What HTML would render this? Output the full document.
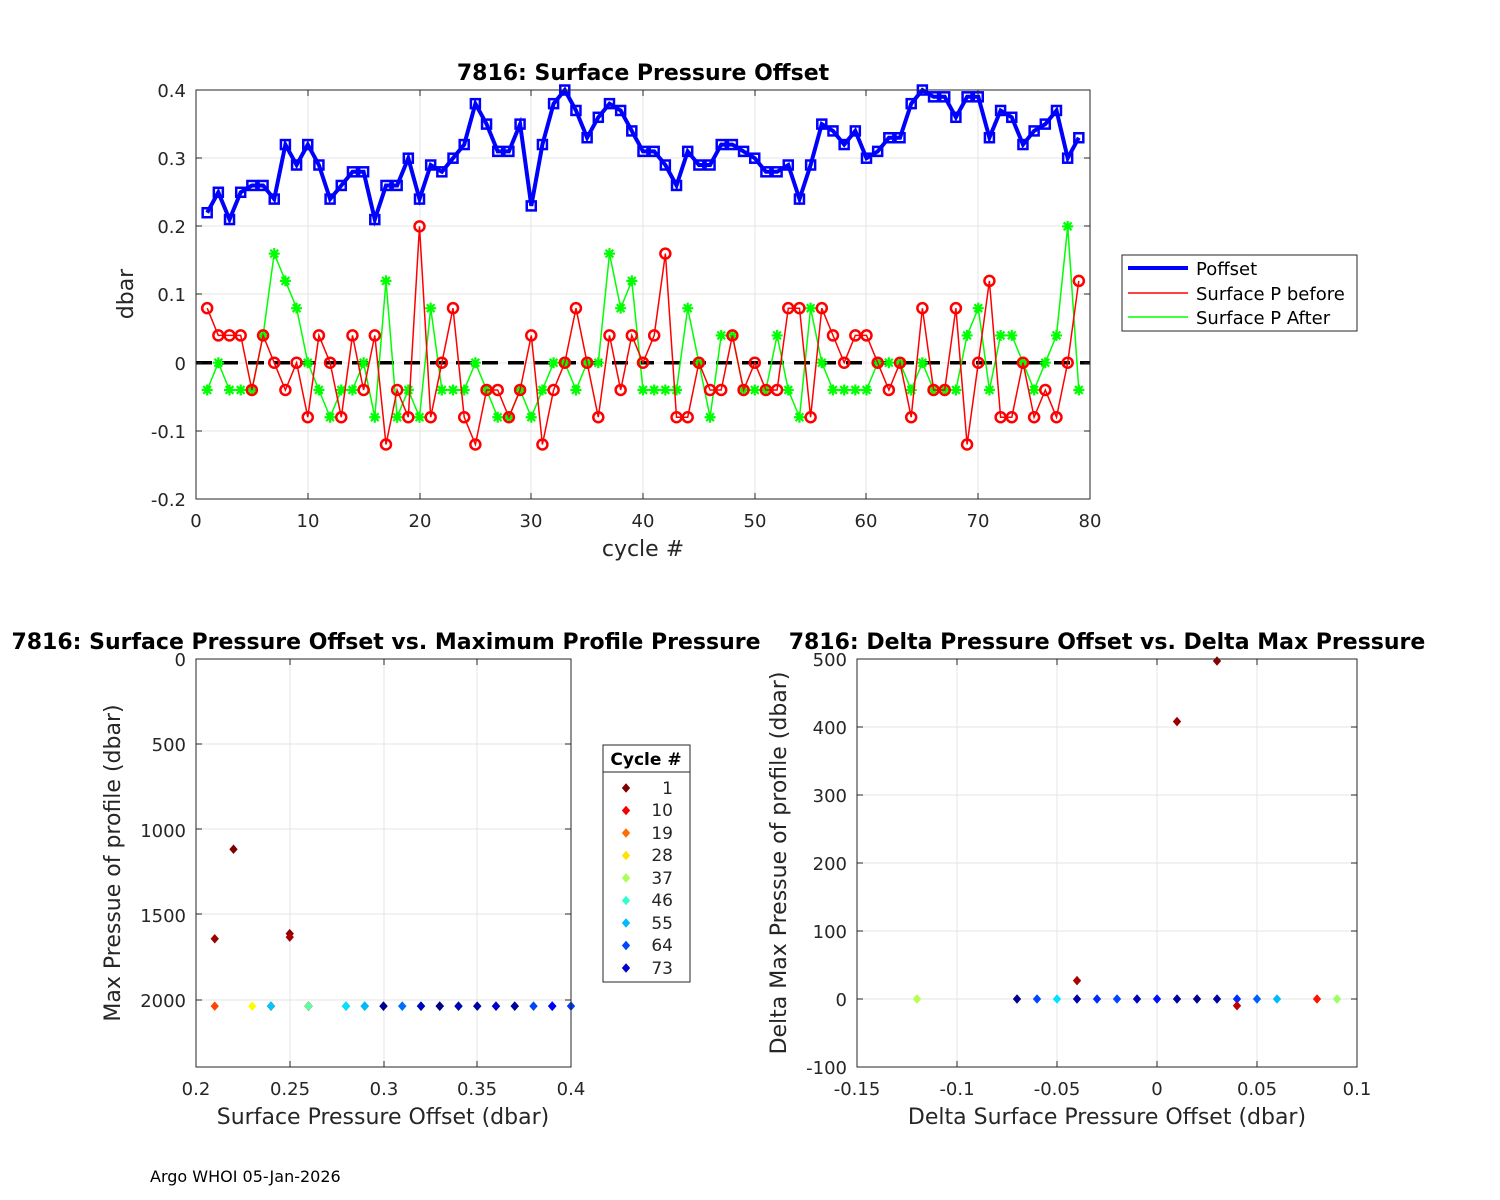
<!DOCTYPE html>
<html><head><meta charset="utf-8"><style>
body{margin:0;background:#fff}
svg{display:block;font-family:"DejaVu Sans","Liberation Sans",sans-serif}
</style></head><body>
<svg id="s" width="1500" height="1200" viewBox="0 0 1500 1200" xmlns="http://www.w3.org/2000/svg">
<rect width="1500" height="1200" fill="#fff"/>
<g id="grid" stroke="#e4e4e4" stroke-width="1"></g>
<g id="data"></g>
<g fill="none" stroke="#262626" stroke-width="1">
<rect x="196" y="90" width="894" height="409"/>
<rect x="196" y="659" width="375" height="408"/>
<rect x="857" y="659" width="500" height="408"/>
</g>
<g id="ticks" stroke="#262626" stroke-width="1"></g>
<g font-size="18" fill="#262626">
<g text-anchor="end">
<text x="186" y="97">0.4</text><text x="186" y="165">0.3</text><text x="186" y="233">0.2</text><text x="186" y="301">0.1</text><text x="186" y="370">0</text><text x="186" y="438">-0.1</text><text x="186" y="506">-0.2</text>
</g>
<g text-anchor="middle">
<text x="196" y="527">0</text><text x="308" y="527">10</text><text x="420" y="527">20</text><text x="531" y="527">30</text><text x="643" y="527">40</text><text x="755" y="527">50</text><text x="866" y="527">60</text><text x="978" y="527">70</text><text x="1090" y="527">80</text>
<text x="643" y="556" font-size="22">cycle #</text>
<text x="643" y="80" font-size="22" font-weight="bold" fill="#000">7816: Surface Pressure Offset</text>
<text transform="translate(133,294) rotate(-90)" font-size="22">dbar</text>
</g>
<g text-anchor="end">
<text x="186" y="666">0</text><text x="186" y="751">500</text><text x="186" y="837">1000</text><text x="186" y="922">1500</text><text x="186" y="1007">2000</text>
</g>
<g text-anchor="middle">
<text x="196" y="1095">0.2</text><text x="290" y="1095">0.25</text><text x="384" y="1095">0.3</text><text x="477" y="1095">0.35</text><text x="571" y="1095">0.4</text>
<text x="383" y="1124" font-size="22">Surface Pressure Offset (dbar)</text>
<text transform="translate(120,863) rotate(-90)" font-size="22">Max Pressue of profile (dbar)</text>
<text x="386" y="649" font-size="22" font-weight="bold" fill="#000">7816: Surface Pressure Offset vs. Maximum Profile Pressure</text>
</g>
<g text-anchor="end">
<text x="847" y="666">500</text><text x="847" y="734">400</text><text x="847" y="802">300</text><text x="847" y="870">200</text><text x="847" y="938">100</text><text x="847" y="1006">0</text><text x="847" y="1074">-100</text>
</g>
<g text-anchor="middle">
<text x="857" y="1095">-0.15</text><text x="957" y="1095">-0.1</text><text x="1057" y="1095">-0.05</text><text x="1157" y="1095">0</text><text x="1257" y="1095">0.05</text><text x="1357" y="1095">0.1</text>
<text x="1107" y="1124" font-size="22">Delta Surface Pressure Offset (dbar)</text>
<text transform="translate(786,863) rotate(-90)" font-size="22">Delta Max Pressue of profile (dbar)</text>
<text x="1107" y="649" font-size="22" font-weight="bold" fill="#000">7816: Delta Pressure Offset vs. Delta Max Pressure</text>
</g>
<text x="150" y="1182" font-size="16" fill="#000">Argo WHOI 05-Jan-2026</text>
</g>
<rect x="1122" y="255" width="235" height="76" fill="#fff" stroke="#262626"/>
<line x1="1128" y1="268" x2="1188" y2="268" stroke="#0000ff" stroke-width="4"/>
<line x1="1128" y1="293" x2="1188" y2="293" stroke="#ff0000" stroke-width="1.5"/>
<line x1="1128" y1="317" x2="1188" y2="317" stroke="#00ff00" stroke-width="1.5"/>
<g font-size="18" fill="#000"><text x="1196" y="275">Poffset</text><text x="1196" y="300">Surface P before</text><text x="1196" y="324">Surface P After</text></g>
<rect x="603" y="745" width="87" height="237" fill="#fff" stroke="#262626"/>
<line x1="603" y1="772" x2="690" y2="772" stroke="#262626"/>
<text x="646" y="765" font-size="17" font-weight="bold" text-anchor="middle">Cycle #</text>
<g font-size="17" fill="#262626" text-anchor="end">
<text x="673" y="794">1</text><text x="673" y="816">10</text><text x="673" y="839">19</text><text x="673" y="861">28</text><text x="673" y="884">37</text><text x="673" y="906">46</text><text x="673" y="929">55</text><text x="673" y="951">64</text><text x="673" y="974">73</text>
</g>
<g id="leg"></g>
</svg>
<script>
var NS="http://www.w3.org/2000/svg";
function el(p,t,a){var e=document.createElementNS(NS,t);for(var k in a)e.setAttribute(k,a[k]);p.appendChild(e);return e;}
var G=document.getElementById('grid'),T=document.getElementById('ticks'),D=document.getElementById('data');
function grid(xs,ys,x0,x1,y0,y1){xs.forEach(function(x){el(G,'line',{x1:x,x2:x,y1:y0,y2:y1});el(T,'line',{x1:x,x2:x,y1:y1,y2:y1-6});el(T,'line',{x1:x,x2:x,y1:y0,y2:y0+6});});
ys.forEach(function(y){el(G,'line',{x1:x0,x2:x1,y1:y,y2:y});el(T,'line',{x1:x0,x2:x0+6,y1:y,y2:y});el(T,'line',{x1:x1,x2:x1-6,y1:y,y2:y});});}
grid([308,420,531,643,755,866,978],[158,226,294,363,431],196,1090,90,499);
grid([290,384,477],[744,829,914,1000],196,571,659,1067);
grid([957,1057,1157,1257],[727,795,863,931,999],857,1357,659,1067);
var P=[.22,.25,.21,.25,.26,.26,.24,.32,.29,.32,.29,.24,.26,.28,.28,.21,.26,.26,.30,.24,.29,.28,.30,.32,.38,.35,.31,.31,.35,.23,.32,.38,.40,.37,.33,.36,.38,.37,.34,.31,.31,.29,.26,.31,.29,.29,.32,.32,.31,.30,.28,.28,.29,.24,.29,.35,.34,.32,.34,.30,.31,.33,.33,.38,.40,.39,.39,.36,.39,.39,.33,.37,.36,.32,.34,.35,.37,.30,.33];
var B=[.08,.04,.04,.04,-.04,.04,0,-.04,0,-.08,.04,0,-.08,.04,-.04,.04,-.12,-.04,-.08,.20,-.08,0,.08,-.08,-.12,-.04,-.04,-.08,-.04,.04,-.12,-.04,0,.08,0,-.08,.04,-.04,.04,0,.04,.16,-.08,-.08,0,-.04,-.04,.04,-.04,0,-.04,-.04,.08,.08,-.08,.08,.04,0,.04,.04,0,-.04,0,-.08,.08,-.04,-.04,.08,-.12,0,.12,-.08,-.08,0,-.08,-.04,-.08,0,.12];
var A=[-.04,0,-.04,-.04,-.04,.04,.16,.12,.08,0,-.04,-.08,-.04,-.04,0,-.08,.12,-.08,-.04,-.08,.08,-.04,-.04,-.04,0,-.04,-.08,-.08,-.04,-.08,-.04,0,0,-.04,0,0,.16,.08,.12,-.04,-.04,-.04,-.04,.08,0,-.08,.04,.04,-.04,-.04,-.04,.04,-.04,-.08,.08,0,-.04,-.04,-.04,-.04,0,0,0,-.04,0,-.04,-.04,-.04,.04,.08,-.04,.04,.04,0,-.04,0,.04,.20,-.04];
function X(c){return 196+c*11.175;}function Y(v){return 362.7-v*681.7;}
el(D,'line',{x1:196,x2:1090,y1:362.7,y2:362.7,stroke:'#000','stroke-width':3.5,'stroke-dasharray':'16,10'});
function line(arr,col,w){var d='';arr.forEach(function(v,i){d+=(i?'L':'M')+X(i+1).toFixed(1)+','+Y(v).toFixed(1);});el(D,'path',{d:d,fill:'none',stroke:col,'stroke-width':w});}
line(A,'#00ff00',1.5);
A.forEach(function(v,i){var x=X(i+1),y=Y(v),r=5.5;el(D,'path',{d:'M'+(x-r)+','+y+'h'+2*r+'M'+x+','+(y-r)+'v'+2*r+'M'+(x-3.9)+','+(y-3.9)+'l7.8,7.8M'+(x-3.9)+','+(y+3.9)+'l7.8,-7.8',stroke:'#00ff00','stroke-width':2.2,fill:'none'});});
line(B,'#ff0000',1.5);
B.forEach(function(v,i){el(D,'circle',{cx:X(i+1),cy:Y(v),r:5,fill:'none',stroke:'#ff0000','stroke-width':2.5});});
line(P,'#0000ff',4);
P.forEach(function(v,i){el(D,'rect',{x:X(i+1)-4.5,y:Y(v)-4.5,width:9,height:9,fill:'none',stroke:'#0000ff','stroke-width':2.5});});
function jet(t){t=1-t;function c(x){return Math.max(0,Math.min(1,x));}var r=c(1.5-Math.abs(4*t-3)),g=c(1.5-Math.abs(4*t-2)),b=c(1.5-Math.abs(4*t-1));return 'rgb('+Math.round(r*255)+','+Math.round(g*255)+','+Math.round(b*255)+')';}
function col(c){return jet((c-1)/78);}
function dia(p,x,y,cl){el(p,'path',{d:'M'+x+','+(y-4)+'l3.5,4l-3.5,4l-3.5,-4z',fill:cl,stroke:cl,'stroke-width':1});}
var MP={1:1115,2:1610,3:1640,4:1630};
P.forEach(function(v,i){var c=i+1,p=MP[c]||2035;dia(D,196+(v-.2)*1875,659+p*0.1706,col(c));});
var L=document.getElementById('leg');[1,10,19,28,37,46,55,64,73].forEach(function(c,k){dia(L,626,788+k*22.5,col(c));});
function RX(v){return 1157+v*2000;}function RY(v){return 999-v*0.68;}
[[-.12,0,36],[.09,0,38],[.08,0,12],[.06,0,55],[.05,0,62],[.04,0,66],[-.05,0,52],[-.06,0,64],[-.07,0,78],[-.04,0,76],[-.03,0,66],[-.02,0,64],[-.01,0,74],[0,0,68],[.01,0,77],[.02,0,78],[.03,0,76],[.03,497,2],[.01,408,3],[-.04,27,4],[.04,-10,6]].forEach(function(p){dia(D,RX(p[0]),RY(p[1]),col(p[2]));});
</script>
</body></html>
